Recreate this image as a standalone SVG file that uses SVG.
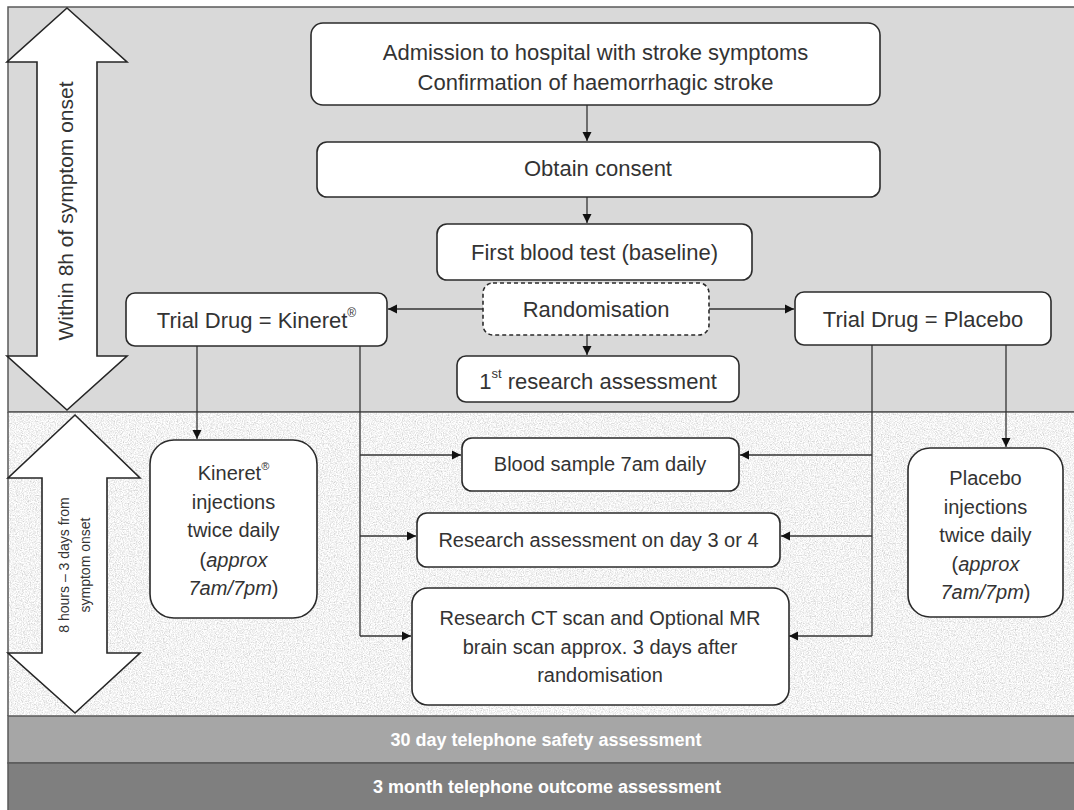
<svg xmlns="http://www.w3.org/2000/svg" width="1074" height="810" viewBox="0 0 1074 810">
<style>
.box{fill:#fff;stroke:#2b2b2b;stroke-width:1.6}
.dash{fill:#fff;stroke:#2b2b2b;stroke-width:1.6;stroke-dasharray:4 3}
.t{font-family:"Liberation Sans",Arial,sans-serif;font-size:22px;fill:#333;text-anchor:middle;dominant-baseline:central}
.s{font-size:20px}
.bar{font-family:"Liberation Sans",Arial,sans-serif;font-size:18px;font-weight:bold;fill:#fff;text-anchor:middle;dominant-baseline:central}
.c{fill:none;stroke:#333;stroke-width:1.3}
.ca{fill:none;stroke:#333;stroke-width:1.3;marker-end:url(#ah)}
.big{fill:#fff;stroke:#262626;stroke-width:1.6}
</style>
<defs>
<marker id="ah" markerWidth="10" markerHeight="10" refX="9" refY="5" orient="auto" markerUnits="userSpaceOnUse">
<path d="M0,0.5 L9,5 L0,9.5 Z" fill="#111"/>
</marker>
<filter id="speckle" x="0" y="0" width="1" height="1" filterUnits="objectBoundingBox">
<feTurbulence type="fractalNoise" baseFrequency="0.85" numOctaves="3" seed="4" result="n"/>
<feColorMatrix in="n" type="matrix" values="0.75 0 0 0 0.52  0.75 0 0 0 0.52  0.75 0 0 0 0.52  0 0 0 0 1"/>
</filter>
</defs>

<g id="background">
<rect x="8" y="7" width="1070" height="405" fill="#d9d9d9" stroke="#595959" stroke-width="1.5"/>
<rect x="8" y="412" width="1070" height="304" fill="#e4e4e4" filter="url(#speckle)"/>
<line x1="8" y1="412" x2="1074" y2="412" stroke="#595959" stroke-width="1.5"/>
<line x1="8" y1="412" x2="8" y2="716" stroke="#595959" stroke-width="1.5"/>
</g>

<g id="bar-30day">
<rect x="8" y="716" width="1070" height="47" fill="#a6a6a6" stroke="#595959" stroke-width="1.5"/>
<text class="bar" x="546" y="740">30 day telephone safety assessment</text>
</g>
<g id="bar-3month">
<rect x="8" y="763" width="1070" height="50" fill="#7f7f7f" stroke="#595959" stroke-width="1.5"/>
<text class="bar" x="547" y="787">3 month telephone outcome assessment</text>
</g>

<g id="arrow-8h">
<polygon class="big" points="67,8 127,62 97,62 97,356 127,356 67,410 7,356 37,356 37,62 7,62"/>
<text class="t" style="font-size:21px" transform="translate(65,211) rotate(-90)" x="0" y="0">Within 8h of symptom onset</text>
</g>
<g id="arrow-3days">
<polygon class="big" points="75,415 140,478 107,478 107,653 140,653 75,713 8,653 42,653 42,478 8,478"/>
<text class="t" style="font-size:14px" transform="translate(64,565) rotate(-90)" x="0" y="0">8 hours – 3 days from</text>
<text class="t" style="font-size:14px" transform="translate(85,565) rotate(-90)" x="0" y="0">symptom onset</text>
</g>

<g id="connectors">
<line class="ca" x1="587" y1="105" x2="587" y2="141"/>
<line class="ca" x1="587" y1="197" x2="587" y2="223"/>
<line class="ca" x1="587" y1="335" x2="587" y2="355"/>
<line class="ca" x1="483" y1="309" x2="388" y2="309"/>
<line class="ca" x1="709" y1="309" x2="794" y2="309"/>
<line class="ca" x1="197" y1="346" x2="197" y2="439"/>
<line class="ca" x1="1006" y1="345" x2="1006" y2="447"/>
<line class="c" x1="360" y1="346" x2="360" y2="636"/>
<line class="ca" x1="360" y1="455" x2="461" y2="455"/>
<line class="ca" x1="360" y1="536" x2="416" y2="536"/>
<line class="ca" x1="360" y1="636" x2="411" y2="636"/>
<line class="c" x1="872" y1="345" x2="872" y2="636"/>
<line class="ca" x1="872" y1="455" x2="740" y2="455"/>
<line class="ca" x1="872" y1="536" x2="781" y2="536"/>
<line class="ca" x1="872" y1="636" x2="789" y2="636"/>
</g>

<g id="admission">
<rect class="box" x="311" y="23" width="569" height="82" rx="12"/>
<text class="t" x="595.5" y="52">Admission to hospital with stroke symptoms</text>
<text class="t" x="595.5" y="82">Confirmation of haemorrhagic stroke</text>
</g>
<g id="consent">
<rect class="box" x="317" y="142" width="563" height="55" rx="10"/>
<text class="t" x="598" y="168">Obtain consent</text>
</g>
<g id="first-blood">
<rect class="box" x="437" y="224" width="315" height="56" rx="10"/>
<text class="t" x="594.5" y="252">First blood test (baseline)</text>
</g>
<g id="randomisation">
<rect class="dash" x="483" y="283" width="226" height="52" rx="10"/>
<text class="t" x="596" y="309">Randomisation</text>
</g>
<g id="first-research">
<rect class="box" x="457" y="356" width="282" height="46" rx="9"/>
<text class="t" x="598" y="381">1<tspan font-size="13" dy="-8">st</tspan><tspan dy="8"> research assessment</tspan></text>
</g>
<g id="kineret">
<rect class="box" x="126" y="293" width="261" height="53" rx="9"/>
<text class="t" x="256.5" y="320">Trial Drug = Kineret<tspan font-size="12" dy="-7">®</tspan></text>
</g>
<g id="placebo">
<rect class="box" x="795" y="292" width="256" height="53" rx="9"/>
<text class="t" x="923" y="319">Trial Drug = Placebo</text>
</g>
<g id="kineret-injections">
<rect class="box" x="150" y="440" width="167" height="178" rx="24"/>
<text class="t s" x="233.5" y="473">Kineret<tspan font-size="11" dy="-7">®</tspan></text>
<text class="t s" x="233.5" y="502">injections</text>
<text class="t s" x="233.5" y="530">twice daily</text>
<text class="t s" x="233.5" y="560">(<tspan font-style="italic">approx</tspan></text>
<text class="t s" x="233.5" y="588"><tspan font-style="italic">7am/7pm</tspan>)</text>
</g>
<g id="placebo-injections">
<rect class="box" x="908" y="448" width="155" height="169" rx="22"/>
<text class="t s" x="985.5" y="478">Placebo</text>
<text class="t s" x="985.5" y="507">injections</text>
<text class="t s" x="985.5" y="535">twice daily</text>
<text class="t s" x="985.5" y="564">(<tspan font-style="italic">approx</tspan></text>
<text class="t s" x="985.5" y="592"><tspan font-style="italic">7am/7pm</tspan>)</text>
</g>
<g id="blood-sample">
<rect class="box" x="462" y="438" width="277" height="53" rx="10"/>
<text class="t s" x="600" y="464">Blood sample 7am daily</text>
</g>
<g id="research-day3">
<rect class="box" x="417" y="513" width="363" height="54" rx="10"/>
<text class="t s" x="598.5" y="540">Research assessment on day 3 or 4</text>
</g>
<g id="ct-scan">
<rect class="box" x="412" y="588" width="377" height="117" rx="16"/>
<text class="t s" x="600" y="618">Research CT scan and Optional MR</text>
<text class="t s" x="600" y="647">brain scan approx. 3 days after</text>
<text class="t s" x="600" y="675">randomisation</text>
</g>
</svg>
